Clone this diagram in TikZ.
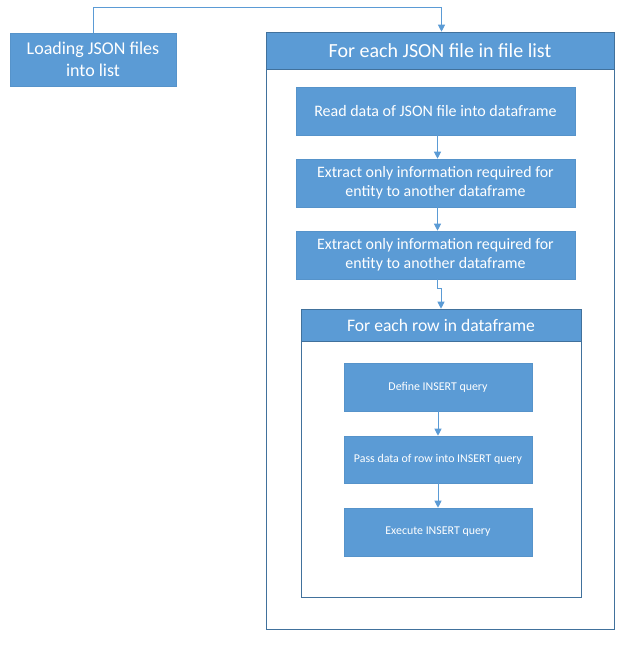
\documentclass[tikz,border=0pt]{standalone}
\usepackage{fontspec}
\setmainfont{Carlito}
\usetikzlibrary{arrows.meta,shadows}
\definecolor{boxblue}{HTML}{5B9BD5}
\definecolor{edgeblue}{HTML}{41719C}
\definecolor{lineblue}{HTML}{5B9BD5}
\begin{document}
\begin{tikzpicture}[x=1pt,y=-1pt,
  bluebox/.style={draw=boxblue!80!edgeblue, line width=0.6pt, fill=boxblue, text=white, inner sep=0pt, align=center,
    drop shadow={opacity=0.18, shadow xshift=1.2pt, shadow yshift=-1.2pt}},
  frame/.style={draw=edgeblue, line width=0.8pt},
  conn/.style={draw=lineblue, line width=1pt, -{Triangle[length=7pt,width=7pt]}}]
\useasboundingbox (0,0) rectangle (639,649);
% outer container
\draw[frame, fill=white, drop shadow={opacity=0.15, shadow xshift=1.2pt, shadow yshift=-1.2pt}] (266,32) rectangle (614,629);
\node[bluebox, draw=edgeblue, minimum width=348pt, minimum height=37pt, font=\fontsize{20}{22}\selectfont] (hdr) at (440,50.5) {For each JSON file in file list};
% loading
\node[bluebox, minimum width=166pt, minimum height=53pt, font=\fontsize{18}{22}\selectfont] (load) at (93,59.5) {Loading JSON files\\into list};
% steps
\node[bluebox, minimum width=279pt, minimum height=48pt, font=\fontsize{16}{19}\selectfont] (read) at (435.5,111) {Read data of JSON file into dataframe};
\node[bluebox, minimum width=279pt, minimum height=48pt, font=\fontsize{15.9}{19}\selectfont] (ex1) at (435.5,183) {Extract only information required for\\entity to another dataframe};
\node[bluebox, minimum width=279pt, minimum height=48pt, font=\fontsize{15.9}{19}\selectfont] (ex2) at (435.5,255) {Extract only information required for\\entity to another dataframe};
% row container
\draw[frame, fill=white, drop shadow={opacity=0.15, shadow xshift=1.2pt, shadow yshift=-1.2pt}] (301,309) rectangle (581,597);
\node[bluebox, draw=edgeblue, minimum width=280pt, minimum height=32pt, font=\fontsize{17.6}{20}\selectfont] (rowhdr) at (441,325) {For each row in dataframe};
\node[bluebox, minimum width=188pt, minimum height=48pt, font=\fontsize{11.9}{14}\selectfont] (def) at (438,387) {Define INSERT query};
\node[bluebox, minimum width=188pt, minimum height=47pt, font=\fontsize{11.9}{14}\selectfont] (pass) at (438,459.5) {Pass data of row into INSERT query};
\node[bluebox, minimum width=188pt, minimum height=48pt, font=\fontsize{11.9}{14}\selectfont] (exec) at (438,532) {Execute INSERT query};
% connectors
\draw[conn] (load.north) -- ++(0,-25) -| ([xshift=1.5pt]hdr.north);
\draw[conn] ([xshift=2pt]read.south) -- ([xshift=2pt]ex1.north);
\draw[conn] ([xshift=2pt]ex1.south) -- ([xshift=2pt]ex2.north);
\draw[conn] ([xshift=2pt]ex2.south) -- ++(0,9) -| (rowhdr.north);
\draw[conn] (def.south) -- (pass.north);
\draw[conn] (pass.south) -- (exec.north);
\end{tikzpicture}
\end{document}
